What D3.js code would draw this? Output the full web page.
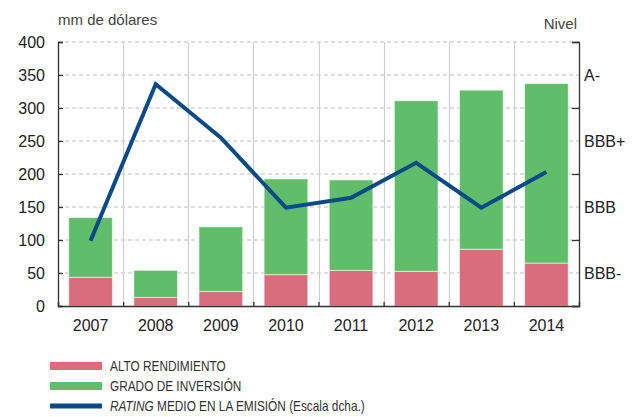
<!DOCTYPE html>
<html><head><meta charset="utf-8">
<script src="https://cdn.jsdelivr.net/npm/d3@7"></script>
<style>
html,body{margin:0;padding:0;background:#fff;}
svg{display:block;font-family:"Liberation Sans",Arial,sans-serif;}
</style></head>
<body>
<svg id="chart" width="638" height="417"></svg>
<script>
const years = ["2007","2008","2009","2010","2011","2012","2013","2014"];
const altoRendimiento = [43.5, 13, 22, 47.5, 54, 52.5, 86, 65];
const gradoInversion = [90.5, 41, 98, 145, 137, 258.5, 241, 272];
const ratingMedio = [1.49, 3.86, 3.05, 1.99, 2.14, 2.67, 1.99, 2.53];
const leftTicks = [0, 50, 100, 150, 200, 250, 300, 350, 400];
const ratingLabels = ["BBB-", "BBB", "BBB+", "A-"];
const ratingLevels = [1, 2, 3, 4];
const ratingTicks = [0.5, 1.5, 2.5, 3.5, 4.5];
const legendItems = ["ALTO RENDIMIENTO", "GRADO DE INVERSIÓN", "RATING MEDIO EN LA EMISIÓN (Escala dcha.)"];

const colors = {red: "#d96d7b", green: "#60be6a", blue: "#0b4a86"};
const svg = d3.select("#chart");
const L = 58, R = 579, T = 42, B = 306;

const x = d3.scaleBand().domain(years).range([L, R]).paddingInner(0.33).paddingOuter(0.165);
const xb = d3.scaleBand().domain(years).range([L, R]);
const y = d3.scaleLinear().domain([0, 400]).range([B, T]);
const yr = d3.scaleLinear().domain([0.5, 4.5]).range([B, T]);

// horizontal dashed gridlines
svg.append("g").selectAll("line").data(leftTicks.filter(d => d > 0)).join("line")
  .attr("x1", L).attr("x2", R).attr("y1", d => y(d)).attr("y2", d => y(d))
  .attr("stroke", "#bdbdbd").attr("stroke-width", 1).attr("stroke-dasharray", "4,3");

// vertical gridlines at category boundaries
svg.append("g").selectAll("line").data(years.slice(1)).join("line")
  .attr("x1", d => Math.round(xb(d)) + 0.5).attr("x2", d => Math.round(xb(d)) + 0.5)
  .attr("y1", T).attr("y2", B)
  .attr("stroke", "#cfcfcf").attr("stroke-width", 1.2);

// stacked bars
const stackData = years.map((yr_, i) => ({year: yr_, alto: altoRendimiento[i], grado: gradoInversion[i]}));
const series = d3.stack().keys(["alto", "grado"])(stackData);
const fills = {alto: colors.red, grado: colors.green};
svg.append("g").selectAll("g").data(series).join("g")
  .attr("fill", d => fills[d.key])
  .selectAll("rect").data(d => d).join("rect")
  .attr("x", d => x(d.data.year)).attr("width", x.bandwidth())
  .attr("y", d => y(d[1])).attr("height", d => y(d[0]) - y(d[1]))
  .attr("stroke", "rgba(255,255,255,0.55)").attr("stroke-width", 1);

// axes
const axisColor = "#333";
svg.append("g").attr("transform", `translate(${L},0)`)
  .call(d3.axisLeft(y).tickValues(leftTicks).tickSize(-5).tickPadding(13));
svg.append("g").attr("transform", `translate(${R},0)`)
  .call(d3.axisRight(yr).tickValues(ratingTicks).tickSize(-7).tickFormat(""));
const gRL = svg.append("g").attr("transform", `translate(${R},0)`)
  .call(d3.axisRight(yr).tickValues(ratingLevels).tickSize(0).tickPadding(5)
    .tickFormat((d, i) => ratingLabels[i]));
gRL.select(".domain").remove();
const gB = svg.append("g").attr("transform", `translate(0,${B})`)
  .call(d3.axisBottom(xb).tickSize(0).tickPadding(14));
gB.select(".domain").remove();
// bottom boundary ticks
svg.append("g").attr("transform", `translate(0,${B})`)
  .call(d3.axisBottom(d3.scaleLinear().domain([0, years.length]).range([L, R]))
    .tickValues(d3.range(0, years.length + 1)).tickSize(-4).tickFormat(""));

svg.selectAll(".domain").attr("stroke", axisColor).attr("stroke-width", 1.3);
svg.selectAll(".tick line").attr("stroke", axisColor).attr("stroke-width", 1.3);
svg.selectAll(".tick text").attr("fill", "#222").style("font-size", "16px")
  .style("font-family", "'Liberation Sans', Arial, sans-serif");

// rating line
const line = d3.line().x((d, i) => xb(years[i]) + xb.bandwidth() / 2).y(d => yr(d));
svg.append("path").datum(ratingMedio).attr("d", line)
  .attr("fill", "none").attr("stroke", colors.blue).attr("stroke-width", 4)
  .attr("stroke-linejoin", "miter");

// titles
svg.append("text").attr("x", L).attr("y", 25).text("mm de dólares")
  .attr("fill", "#444").style("font-size", "15px");
svg.append("text").attr("x", 577).attr("y", 29).attr("text-anchor", "end").text("Nivel")
  .attr("fill", "#444").style("font-size", "15px");

// legend
const lg = svg.append("g");
const lgY = [366, 386, 406];
lg.append("rect").attr("x", 50).attr("y", lgY[0] - 4).attr("width", 52).attr("height", 8).attr("fill", colors.red);
lg.append("rect").attr("x", 50).attr("y", lgY[1] - 4).attr("width", 52).attr("height", 8).attr("fill", colors.green);
lg.append("rect").attr("x", 50).attr("y", lgY[2] - 2.5).attr("width", 52).attr("height", 5).attr("fill", colors.blue);
const narrow = 0.845;
function legendText(i) {
  return lg.append("text").attr("transform", `translate(110,${lgY[i] + 5}) scale(${narrow},1)`)
    .attr("fill", "#333").style("font-size", "14px");
}
legendText(0).text(legendItems[0]);
legendText(1).text(legendItems[1]);
const t3 = legendText(2);
t3.append("tspan").style("font-style", "italic").text("RATING");
t3.append("tspan").text(" MEDIO EN LA EMISIÓN (Escala dcha.)");
</script>
</body></html>
